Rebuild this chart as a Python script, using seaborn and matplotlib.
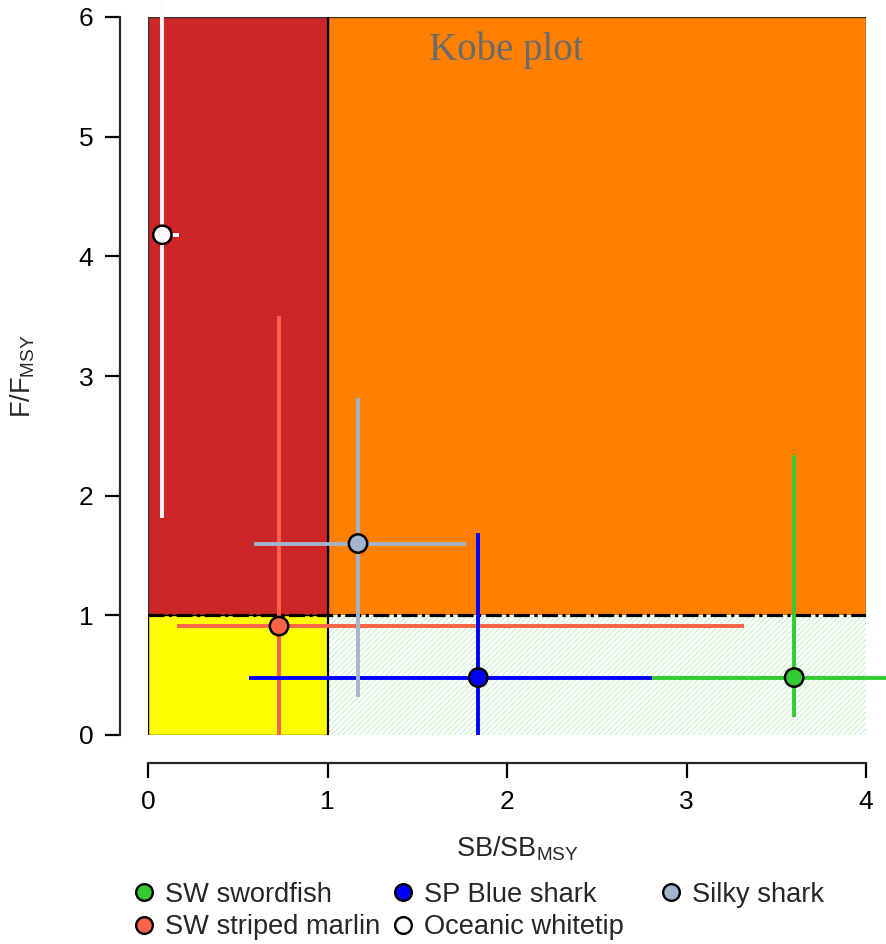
import matplotlib
matplotlib.use("Agg")
import matplotlib.pyplot as plt
import seaborn as sns
import pandas as pd
from matplotlib.patches import Rectangle
from matplotlib.lines import Line2D

# ---- data ----
species = ["SW swordfish", "SW striped marlin", "SP Blue shark", "Oceanic whitetip", "Silky shark"]
sb_est = [3.60, 0.73, 1.84, 0.08, 1.17]
f_est = [0.48, 0.91, 0.48, 4.18, 1.60]
sb_low = [2.80, 0.16, 0.56, 0.04, 0.59]
sb_high = [4.15, 3.32, 2.81, 0.17, 1.77]
f_low = [0.15, 0.00, 0.00, 1.81, 0.32]
f_high = [2.34, 3.50, 1.69, 6.20, 2.82]
colors = ["#32CD32", "#FF6347", "#0000FF", "#FFFAFA", "#A2B5CD"]

df = pd.DataFrame({"species": species, "sb": sb_est, "f": f_est,
                   "sb_low": sb_low, "sb_high": sb_high,
                   "f_low": f_low, "f_high": f_high})

sns.set_theme(style="ticks")
plt.rcParams["font.family"] = ["Liberation Sans", "DejaVu Sans"]
plt.rcParams["mathtext.fontset"] = "custom"
plt.rcParams["mathtext.rm"] = "Liberation Sans"

fig = plt.figure(figsize=(8.86, 9.44), dpi=100)
ax = fig.add_axes([148 / 886, 1 - 735 / 944, (866 - 148) / 886, (735 - 17) / 944])

# quadrants
ax.add_patch(Rectangle((0, 1), 1, 5, facecolor="#CD2626", edgecolor="#333333", lw=1, zorder=0))
ax.add_patch(Rectangle((1, 1), 3, 5, facecolor="#FF8000", edgecolor="#333333", lw=1, zorder=0))
ax.add_patch(Rectangle((0, 0), 1, 1, facecolor="#FFFF00", edgecolor="#000000", lw=1, zorder=0))
plt.rcParams["hatch.linewidth"] = 0.6
ax.add_patch(Rectangle((1, 0), 3, 1, facecolor="white", edgecolor="#b8f0b8", hatch="//////", lw=0, zorder=0))

ax.plot([0, 4], [1, 1], color="black", lw=2.3, dashes=(5, 1.4, 1, 1.4), zorder=1)
ax.plot([1, 1], [0, 6], color="black", lw=1.6, zorder=1)

# error lines
for i, r in df.iterrows():
    ax.plot([r.sb_low, r.sb_high], [r.f, r.f], color=colors[i], lw=2.8, zorder=2,
            clip_on=False, solid_capstyle="butt")
    ax.plot([r.sb, r.sb], [r.f_low, r.f_high], color=colors[i], lw=2.8, zorder=2,
            clip_on=(i != 3), solid_capstyle="butt")

sns.scatterplot(data=df, x="sb", y="f", hue="species", palette=colors, hue_order=species,
                s=175, edgecolor="black", linewidth=1.8, legend=False, ax=ax, zorder=5)

ax.text(1.995, 5.72, "Kobe plot", family=["Liberation Serif", "DejaVu Serif"], fontsize=28,
        color="#6a6a6a", ha="center", va="center")

ax.set_xlim(0, 4)
ax.set_ylim(0, 6)
ax.set_xticks([0, 1, 2, 3, 4])
ax.set_yticks([0, 1, 2, 3, 4, 5, 6])
ax.tick_params(labelsize=19, length=10.5, width=1.6, colors="black", pad=9)
for s in ["left", "bottom"]:
    ax.spines[s].set_linewidth(1.6)
sns.despine(ax=ax, offset={"left": 20, "bottom": 20}, trim=True)

ax.set_xlabel(r"SB/SB$_{\mathregular{MSY}}$", fontsize=19.5, labelpad=15)
ax.xaxis.label.set_x(0.515)
ax.set_ylabel(r"F/F$_{\mathregular{MSY}}$", fontsize=19.5, labelpad=30)

handles = [Line2D([], [], marker="o", linestyle="none", markersize=12,
                  markerfacecolor=c, markeredgecolor="black", markeredgewidth=1.7)
           for c in colors]
col_groups = [[0, 1], [2, 3], [4]]
col_x = [124, 383, 651]
for grp, x0 in zip(col_groups, col_x):
    fig.legend([handles[k] for k in grp], [species[k] for k in grp], loc="upper left",
               bbox_to_anchor=(x0 / 886, 1 - 871 / 944), ncol=1, frameon=False,
               fontsize=19.6, handlelength=0.7, handletextpad=0.42,
               labelspacing=0.24, borderaxespad=0)

fig.savefig("out.png", dpi=100)
